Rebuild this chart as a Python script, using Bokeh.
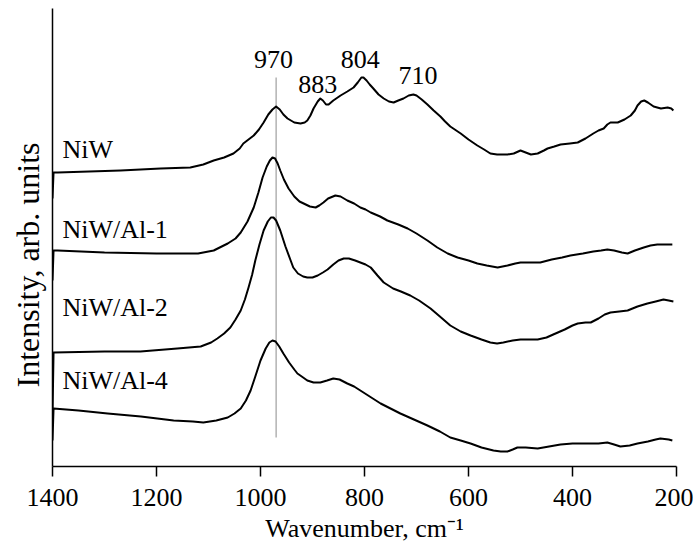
from bokeh.plotting import figure
from bokeh.models import Range1d, FixedTicker, Label, Title
from bokeh.embed import file_html
from bokeh.resources import INLINE

FONT = "Liberation Serif"

# Wavenumber (cm-1) and offset intensity (arb. units)
niw_wn = [1400, 1398, 1390, 1269, 1192, 1135, 1110, 1090, 1070, 1052, 1040, 1033, 1023, 1013, 1003, 994, 985,
          977, 970, 963, 956, 948, 935, 923, 915, 910, 904, 898, 890, 885, 880, 874, 869, 860, 846, 833,
          821, 813, 806, 802, 796, 790, 783, 773, 763, 753, 744, 735, 725, 715, 706, 700, 690, 679, 667,
          654, 645, 635, 615, 600, 583, 570, 558, 545, 538, 525, 513, 500, 490, 480, 467, 455, 448, 435,
          423, 405, 390, 375, 360, 350, 340, 333, 327, 313, 300, 288, 280, 275, 268, 262, 255, 244, 230,
          217, 210, 206]
niw_y = [268, 294, 294, 296, 298, 299, 302, 306, 309, 313, 318, 323, 327, 331, 337, 344, 352,
         357, 360, 357, 352, 348, 344, 343, 344, 346, 351, 358, 365, 368, 366, 362, 362, 366, 371, 375,
         379, 384, 389, 389, 386, 382, 378, 372, 368, 365, 364, 366, 368, 371, 372, 371, 367, 362, 356,
         350, 345, 340, 333, 327, 321, 317, 313, 312, 312, 312, 313, 316, 314, 312, 313, 316, 318, 320,
         322, 323, 324, 328, 333, 336, 338, 342, 344, 344, 347, 351, 356, 361, 365, 366, 364, 360, 358,
         359, 358, 356]

al1_wn = [1400, 1398, 1390, 1300, 1200, 1120, 1090, 1063, 1048, 1038, 1025, 1013, 1004, 996, 988, 982, 977,
          972, 967, 962, 955, 946, 935, 925, 917, 905, 894, 887, 879, 870, 856, 846, 833, 820, 808, 798,
          788, 770, 756, 735, 717, 700, 679, 660, 640, 621, 600, 583, 565, 544, 525, 510, 500, 480, 462,
          440, 420, 404, 380, 360, 345, 333, 320, 305, 294, 280, 263, 250, 237, 208]
al1_y = [186, 216, 216, 214, 213, 213, 216, 223, 228, 234, 245, 259, 274, 289, 300, 306, 309,
         308, 303, 296, 287, 278, 270, 265, 263, 260, 259, 261, 264, 268, 271, 270, 266, 263, 259, 257,
         254, 250, 246, 242, 238, 233, 226, 219, 213, 209, 206, 203, 201, 199, 201, 203, 204, 204, 204,
         207, 209, 211, 213, 215, 216, 217, 216, 214, 213, 216, 219, 221, 222, 222]

al2_wn = [1400, 1398, 1300, 1231, 1160, 1115, 1095, 1083, 1070, 1058, 1048, 1038, 1030, 1023, 1016, 1010, 1002,
          994, 986, 980, 975, 970, 962, 952, 942, 937, 928, 918, 910, 900, 890, 880, 871, 860, 850, 840,
          830, 818, 808, 798, 788, 775, 763, 745, 730, 712, 695, 673, 655, 635, 615, 596, 575, 558, 545,
          533, 515, 500, 480, 467, 450, 437, 415, 400, 390, 375, 365, 350, 338, 327, 310, 294, 275, 256,
          240, 225, 215, 206]
al2_y = [51, 114, 115, 115, 118, 120, 124, 128, 133, 139, 147, 156, 167, 179, 192, 206, 222,
         236, 245, 249, 249, 246, 236, 220, 206, 199, 193, 190, 189, 189, 191, 194, 197, 202, 206, 208,
         208, 206, 204, 202, 199, 191, 184, 178, 175, 171, 166, 158, 150, 141, 135, 131, 127, 124, 123,
         124, 126, 127, 127, 127, 129, 132, 137, 141, 143, 144, 144, 148, 152, 154, 155, 156, 160, 163,
         165, 167, 166, 165]

al4_wn = [1400, 1398, 1350, 1294, 1230, 1167, 1130, 1110, 1085, 1063, 1050, 1038, 1028, 1019, 1010, 1000, 990,
          983, 977, 971, 964, 956, 945, 935, 929, 918, 910, 898, 885, 872, 860, 848, 833, 820, 808, 790,
          769, 750, 731, 705, 679, 655, 635, 615, 596, 575, 552, 538, 525, 515, 506, 490, 467, 445, 423,
          400, 371, 350, 333, 320, 308, 290, 275, 255, 240, 231, 215, 208]
al4_y = [26, 58, 56, 53, 50, 46, 45, 44, 46, 49, 53, 58, 66, 76, 90, 106, 118,
         124, 126, 125, 120, 113, 104, 97, 93, 89, 86, 84, 84, 86, 88, 87, 83, 80, 76, 70,
         63, 58, 53, 47, 41, 35, 29, 26, 23, 19, 16, 15, 15, 17, 19, 19, 18, 20, 22,
         23, 23, 23, 24, 22, 20, 21, 23, 25, 27, 28, 27, 26]

series_names = ["NiW", "NiW/Al-1", "NiW/Al-2", "NiW/Al-4"]
peak_labels = ["970", "883", "804", "710"]
x_ticks = [1400, 1200, 1000, 800, 600, 400, 200]

# layout (not data): label anchor positions
name_pos = [(1381, 317), (1381, 237), (1381, 159), (1381, 86)]
peak_pos = [(975, 407), (890, 382), (808, 407), (697, 391)]
line_x = 970
line_y = (29, 389)

p = figure(width=693, height=545, output_backend="svg", toolbar_location=None,
           x_range=Range1d(1400, 200), y_range=Range1d(0, 458),
           min_border_left=52, min_border_right=17, min_border_top=8, min_border_bottom=79)
p.outline_line_color = None
p.xgrid.visible = False
p.ygrid.visible = False
p.background_fill_color = "white"
p.border_fill_color = "white"

p.segment(x0=[line_x], y0=[line_y[0]], x1=[line_x], y1=[line_y[1]], line_color="#8c8c8c", line_width=1)

for wn, yy in [(niw_wn, niw_y), (al1_wn, al1_y), (al2_wn, al2_y), (al4_wn, al4_y)]:
    p.line(wn, yy, line_color="black", line_width=2, line_join="round")

for name, (lx, ly) in zip(series_names, name_pos):
    p.add_layout(Label(x=lx, y=ly, text=name, text_font=FONT, text_font_size="26px",
                       text_align="left", text_baseline="alphabetic", text_color="black"))

for lab, (lx, ly) in zip(peak_labels, peak_pos):
    p.add_layout(Label(x=lx, y=ly, text=lab, text_font=FONT, text_font_size="26px",
                       text_align="center", text_baseline="alphabetic", text_color="black"))

xa = p.xaxis[0]
xa.ticker = FixedTicker(ticks=x_ticks)
xa.axis_label = "Wavenumber, cm\u207b\u00b9"
xa.axis_label_text_font = FONT
xa.axis_label_text_font_size = "26px"
xa.axis_label_text_font_style = "normal"
xa.axis_label_standoff = 5
xa.major_label_text_font = FONT
xa.major_label_text_font_size = "26px"
xa.major_label_standoff = 12
xa.major_tick_in = 0
xa.major_tick_out = 10
xa.minor_tick_line_color = None
xa.axis_line_width = 1.5
xa.major_tick_line_width = 1.5
xa.axis_line_color = "black"
xa.major_tick_line_color = "black"
xa.major_label_text_color = "black"
xa.axis_label_text_color = "black"

ya = p.yaxis[0]
ya.ticker = FixedTicker(ticks=[])
ya.major_tick_line_color = None
ya.minor_tick_line_color = None
ya.major_label_text_font_size = "0px"
ya.axis_line_width = 1.5
ya.axis_line_color = "black"

p.add_layout(Title(text="Intensity, arb. units", align="left", offset=79,
                   text_font=FONT, text_font_size="32px", text_font_style="normal",
                   text_color="black", standoff=14), "left")

open("out.html", "w").write(file_html(p, INLINE))
